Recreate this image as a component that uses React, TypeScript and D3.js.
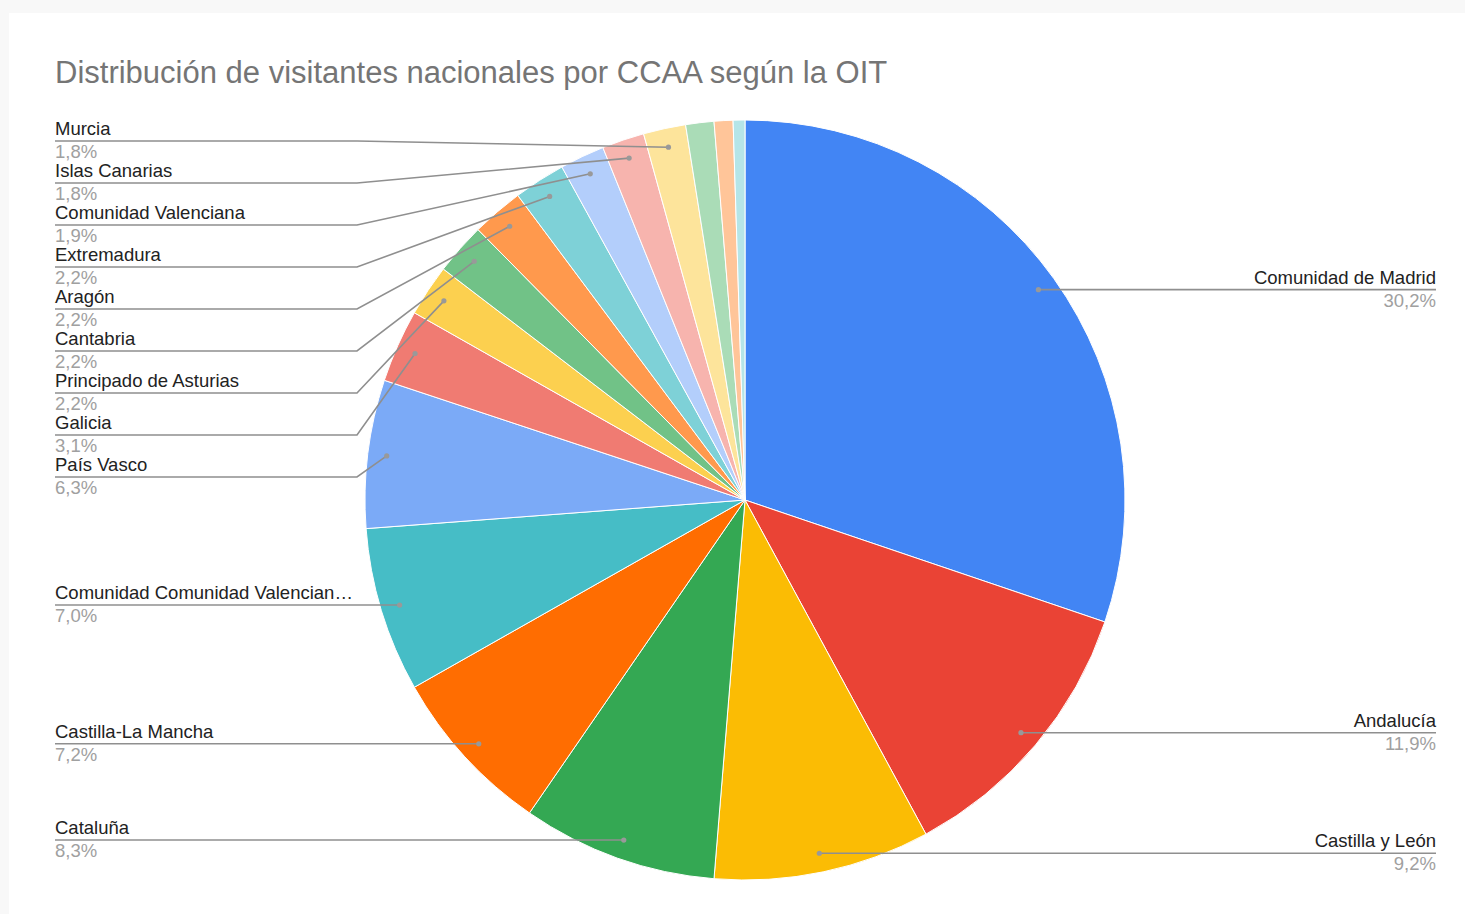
import * as d3 from 'd3';
import { useEffect, useRef } from 'react';

// datos (porcentaje por CCAA, en orden horario desde arriba)
const categories = [
  'Comunidad de Madrid', 'Andalucía', 'Castilla y León', 'Cataluña', 'Castilla-La Mancha',
  'Comunidad Comunidad Valenciana', 'País Vasco', 'Galicia', 'Principado de Asturias', 'Cantabria',
  'Aragón', 'Extremadura', 'Comunidad Valenciana', 'Islas Canarias', 'Murcia',
  'Islas Baleares', 'Navarra', 'La Rioja',
];
const values = [30.2, 11.9, 9.2, 8.3, 7.2, 7.0, 6.3, 3.1, 2.2, 2.2, 2.2, 2.2, 1.9, 1.8, 1.8, 1.2, 0.8, 0.5];
const colors = [
  '#4285f4', '#ea4335', '#fbbc04', '#34a853', '#ff6d01', '#46bdc6', '#7baaf7', '#f07b72', '#fcd04f',
  '#71c287', '#ff994d', '#7ed1d7', '#b3cefb', '#f7b4ae', '#fde49b', '#aadcb7', '#ffc599', '#b5e5e8',
];
const title = 'Distribución de visitantes nacionales por CCAA según la OIT';

type Slice = { name: string; value: number; color: string };
const data: Slice[] = categories.map((c, i) => ({ name: c, value: values[i], color: colors[i] }));

const W = 1465, H = 914;
const cx = 745, cy = 500, R = 380;
const FONT = '"Liberation Sans", Arial, sans-serif';
const LEFT_X = 55, RIGHT_X = 1436, GAP = 42;

const shortName = (s: string) => (s.length > 29 ? s.slice(0, 29) + '…' : s);

type Lab = { d: d3.PieArcDatum<Slice>; px: number; py: number; y: number };

// reparte las etiquetas en vertical sin solaparse
function spread(items: Lab[], minY: number, maxY: number) {
  items.sort((a, b) => a.py - b.py);
  let clusters = items.map(it => ({ items: [it], start: it.py }));
  const place = (c: { items: Lab[]; start: number }) => {
    const m = d3.mean(c.items, (it, i) => it.py - i * GAP) ?? 0;
    c.start = Math.max(minY, Math.min(maxY - (c.items.length - 1) * GAP, m));
  };
  let merged = true;
  while (merged) {
    merged = false;
    clusters.forEach(place);
    for (let i = 1; i < clusters.length; i++) {
      const a = clusters[i - 1], b = clusters[i];
      if (a.start + a.items.length * GAP > b.start) {
        a.items = a.items.concat(b.items);
        clusters.splice(i, 1);
        merged = true;
        break;
      }
    }
  }
  clusters.forEach(c => c.items.forEach((it, i) => { it.y = c.start + i * GAP; }));
}

const App = () => {
  const ref = useRef<SVGSVGElement | null>(null);

  useEffect(() => {
    if (!ref.current) return;
    const svg = d3.select(ref.current);
    svg.selectAll('*').remove();

    svg.append('rect').attr('width', W).attr('height', H).attr('fill', '#f8f8f8');
    svg.append('rect').attr('x', 9).attr('y', 13).attr('width', W - 9).attr('height', H - 13).attr('fill', '#fff');

    svg.append('text')
      .attr('x', LEFT_X).attr('y', 83)
      .attr('font-family', FONT).attr('font-size', 31).attr('fill', '#757575')
      .text(title);

    const pie = d3.pie<Slice>().value(d => d.value).sort(null);
    const arc = d3.arc<d3.PieArcDatum<Slice>>().innerRadius(0).outerRadius(R);
    const arcs = pie(data);

    const g = svg.append('g').attr('transform', `translate(${cx},${cy})`);
    g.selectAll('path')
      .data(arcs)
      .enter().append('path')
      .attr('d', arc)
      .attr('fill', d => d.data.color)
      .attr('stroke', '#fff')
      .attr('stroke-width', 1);

    const pr = R * 0.95;
    const labs: Lab[] = arcs
      .filter(d => d.data.value >= 1.5)
      .map(d => {
        const a = (d.startAngle + d.endAngle) / 2;
        return { d, px: cx + pr * Math.sin(a), py: cy - pr * Math.cos(a), y: 0 };
      });
    const right = labs.filter(l => (l.d.startAngle + l.d.endAngle) / 2 < Math.PI);
    const left = labs.filter(l => (l.d.startAngle + l.d.endAngle) / 2 >= Math.PI);
    spread(right, cy - R + 21, cy + R);
    spread(left, cy - R + 21, cy + R);

    const fmt = (v: number) => d3.format('.1f')(v).replace('.', ',') + '%';
    const lg = svg.append('g');

    const draw = (arr: Lab[], side: 'l' | 'r') => {
      const x0 = side === 'l' ? LEFT_X : RIGHT_X;
      const bend = side === 'l' ? cx - R - 8 : cx + R + 8;
      const anchor = side === 'l' ? 'start' : 'end';
      arr.forEach(l => {
        lg.append('path')
          .attr('d', `M${x0},${l.y}H${bend}L${l.px},${l.py}`)
          .attr('fill', 'none').attr('stroke', '#8f8f8f').attr('stroke-width', 1.6);
        lg.append('circle').attr('cx', l.px).attr('cy', l.py).attr('r', 2.6).attr('fill', '#999');
        lg.append('text')
          .attr('x', x0).attr('y', l.y - 6).attr('text-anchor', anchor)
          .attr('font-family', FONT).attr('font-size', 18.5).attr('fill', '#222')
          .text(shortName(l.d.data.name));
        lg.append('text')
          .attr('x', x0).attr('y', l.y + 17).attr('text-anchor', anchor)
          .attr('font-family', FONT).attr('font-size', 18.5).attr('fill', '#a0a0a0')
          .text(fmt(l.d.data.value));
      });
    };
    draw(left, 'l');
    draw(right, 'r');
  }, []);

  return (
    <div style={{ position: 'fixed', left: 0, top: 0, width: W, height: H }}>
      <svg ref={ref} width={W} height={H} style={{ display: 'block' }} />
    </div>
  );
};

export default App;
